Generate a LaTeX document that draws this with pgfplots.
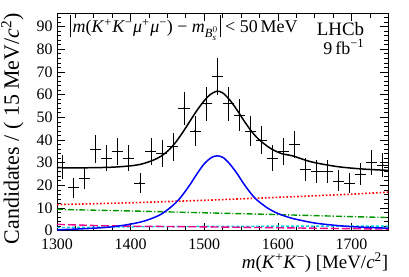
\documentclass[border=0pt]{standalone}
\usepackage{fontspec}
\setmainfont{Liberation Serif}
\usepackage{amsmath}
\usepackage{pgfplots}
\usepackage{pgfplotstable}
\pgfplotsset{compat=1.18}
\definecolor{rgreen}{RGB}{0,150,0}
\definecolor{rcyan}{RGB}{0,210,230}
\pgfplotstableread{
x y ex ey
1307.5 28 7.5 5.29
1322.5 19 7.5 4.36
1337.5 23 7.5 4.80
1352.5 36 7.5 6.00
1367.5 32 7.5 5.66
1382.5 35 7.5 5.92
1397.5 32 7.5 5.66
1412.5 21 7.5 4.58
1427.5 35 7.5 5.92
1442.5 34 7.5 5.83
1457.5 37 7.5 6.08
1472.5 54 7.5 7.35
1487.5 44 7.5 6.63
1502.5 56 7.5 7.48
1517.5 68 7.5 8.25
1532.5 56 7.5 7.48
1547.5 51 7.5 7.14
1562.5 44 7.5 6.63
1577.5 40 7.5 6.32
1592.5 32 7.5 5.66
1607.5 35 7.5 5.92
1622.5 38 7.5 6.16
1637.5 27 7.5 5.20
1652.5 26 7.5 5.10
1667.5 26 7.5 5.10
1682.5 22 7.5 4.69
1697.5 21 7.5 4.58
1712.5 25 7.5 5.00
1727.5 30 7.5 5.48
1742.5 29 7.5 5.39
}\tabdata
\pgfplotstableread{
x y
1300 27.8
1325 27.7
1350 27.8
1375 28.0
1400 28.6
1415 29.4
1430 31.0
1440 32.6
1450 35.0
1460 38.5
1470 43.0
1480 48.0
1490 53.0
1500 57.3
1508 60.0
1517 61.5
1525 60.8
1535 57.5
1545 53.0
1555 48.0
1565 43.5
1575 40.0
1590 36.3
1605 34.0
1620 33.0
1645 30.4
1680 28.3
1715 27.2
1750 26.6
}\tabtotal
\pgfplotstableread{
x y
1300 0.4
1325 0.7
1350 1.1
1375 1.7
1400 2.9
1420 4.4
1440 7.0
1455 10.5
1467 14.3
1480 20.0
1490 25.0
1500 29.5
1510 32.3
1518 33.0
1526 32.2
1535 29.3
1545 25.0
1553 21.0
1562 17.0
1570 14.0
1585 10.2
1600 7.6
1620 5.4
1650 3.4
1680 2.3
1700 1.8
1725 1.4
1750 1.1
}\tabsig
\pgfplotstableread{
x y
1300 11.5
1400 12.3
1500 13.4
1600 14.7
1700 16.1
1750 17.0
}\tabred
\pgfplotstableread{
x y
1300 9.4
1400 8.7
1500 7.9
1600 7.1
1700 6.2
1750 5.8
}\tabgreen
\pgfplotstableread{
x y
1300 2.8
1330 2.5
1360 2.2
1400 2.0
1500 1.7
1600 1.3
1700 0.9
1750 0.7
}\tabmag
\pgfplotstableread{
x y
1300 1.4
1400 1.7
1500 1.9
1600 2.0
1700 2.0
1750 2.0
}\tabcyan
\newcommand{\absbar}{\rule[-0.28em]{0.6pt}{1.25em}}
\begin{document}
\begin{tikzpicture}
\useasboundingbox (-57bp,-46.3bp) rectangle (352bp,230.7bp);
\begin{axis}[
  at={(0,0)}, anchor=south west,
  scale only axis, width=331.3bp, height=217.7bp,
  xmin=1300, xmax=1750, ymin=0, ymax=96,
  xtick distance=100, minor x tick num=3,
  ytick distance=10, minor y tick num=4,
  tick align=inside,
  major tick length=8bp, minor tick length=4.5bp,
  axis line style={line width=0.9pt},
  every tick/.style={black, line width=0.7pt},
  /pgf/number format/assume math mode=true,
  /pgf/number format/1000 sep={},
  tick label style={font=\fontsize{16}{19}\selectfont},
  xticklabel style={inner ysep=0pt, yshift=-7.8bp},
  yticklabel style={inner ysep=0pt, xshift=-1bp},
  xlabel={\textit{m}(\textit{K}\textsuperscript{+}\textit{K}\textsuperscript{−}) [MeV/\textit{c}\textsuperscript{2}]},
  xlabel style={at={(axis description cs:1,-0.172)}, anchor=base east, inner sep=0pt, font=\fontsize{19}{22}\selectfont},
  ylabel={Candidates / ( 15 MeV/\textit{c}\textsuperscript{2})},
  ylabel style={at={(axis description cs:-0.135,1)}, anchor=east, inner sep=0pt, font=\fontsize{22}{26}\selectfont},
  clip=true,
]
\addplot[rcyan, densely dashed, line width=1.4pt] table {\tabcyan};
\addplot[magenta, dash pattern=on 8pt off 3pt, line width=1.4pt] table {\tabmag};
\addplot[rgreen, dash pattern=on 6pt off 2pt on 1.2pt off 2pt, line width=1.4pt] table {\tabgreen};
\addplot[red, dotted, line width=1.6pt] table {\tabred};
\addplot[blue, smooth, line width=1.5pt] table {\tabsig};
\addplot[black, smooth, line width=1.5pt] table {\tabtotal};
\addplot[black, only marks, mark=*, mark size=0.6pt,
  error bars/.cd, x dir=both, x explicit, y dir=both, y explicit,
  error bar style={line width=0.6pt, black}, error mark=none]
  table[x=x, y=y, x error=ex, y error=ey] {\tabdata};
\node[anchor=west, font=\fontsize{18}{21}\selectfont] at (axis cs:1313,89.5)
  {\absbar\kern2pt\textit{m}(\textit{K}\textsuperscript{+}\kern0.5pt\textit{K}\textsuperscript{−}\kern0.5pt\textit{μ}\textsuperscript{+}\kern0.5pt\textit{μ}\textsuperscript{−}) − $\textit{m}_{\textit{B}^{0}_{\textit{s}}}$\kern2pt\absbar\ \textless\ 50\,MeV};
\node[anchor=east, font=\fontsize{19}{22}\selectfont] at (axis cs:1722,89) {LHCb};
\node[anchor=east, font=\fontsize{18}{21}\selectfont] at (axis cs:1722,81) {9\,fb\textsuperscript{−1}};
\end{axis}
\end{tikzpicture}
\end{document}
